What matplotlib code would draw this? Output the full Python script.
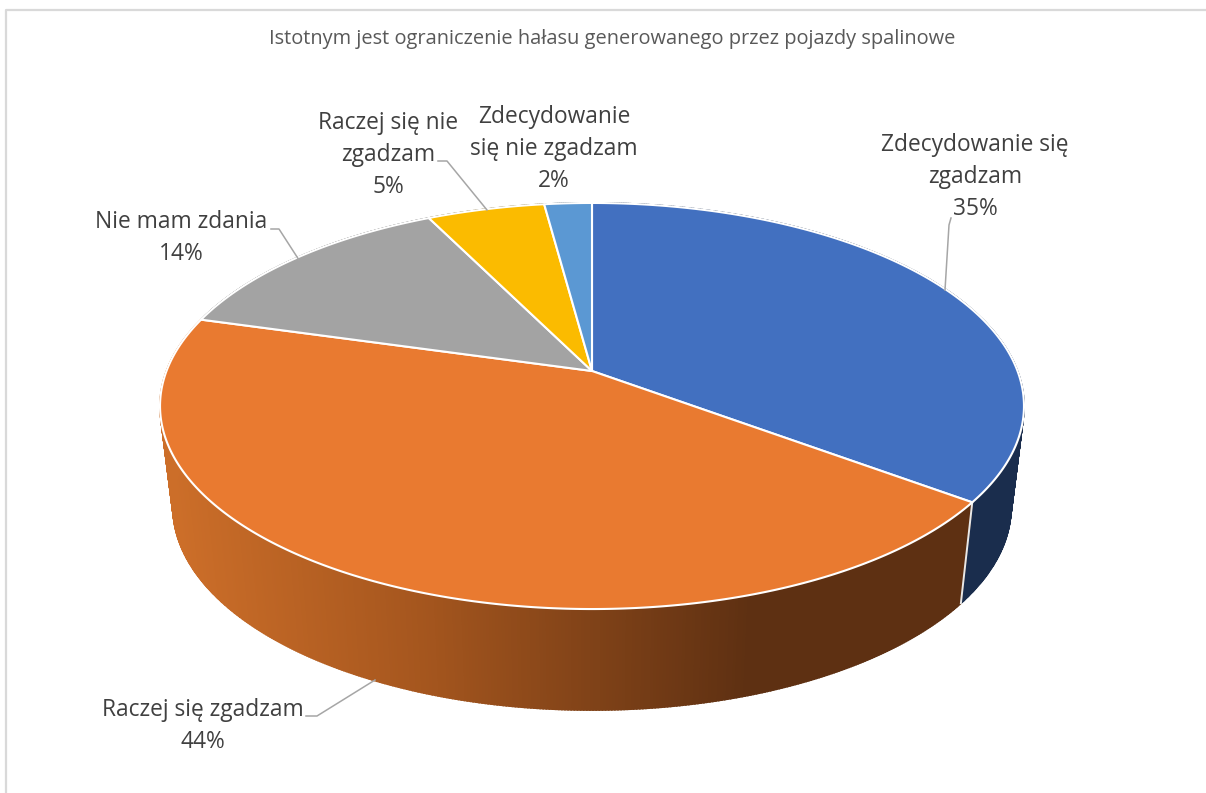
import numpy as np
import matplotlib
matplotlib.use("Agg")
import matplotlib.pyplot as plt

title = "Istotnym jest ograniczenie hałasu generowanego przez pojazdy spalinowe"
categories = ["Zdecydowanie się zgadzam", "Raczej się zgadzam", "Nie mam zdania",
              "Raczej się nie zgadzam", "Zdecydowanie się nie zgadzam"]
values = [35.2, 44.2, 13.3, 5.2, 2.1]
colors = ["#4270C0", "#E97A30", "#A3A3A3", "#FBBB00", "#5B98D3"]

plt.rcParams['font.family'] = ['Open Sans', 'DejaVu Sans']
W, H = 1206, 793
fig = plt.figure(figsize=(W / 100, H / 100), dpi=100)
ax = fig.add_axes([0, 0, 1, 1])
ax.set_xlim(0, W)
ax.set_ylim(H, 0)
ax.axis("off")

# perspective projection of the pie disc
CX, CY, RX, RY, K = 592, 371, 425.5, 197, 0.1724
F, CY2 = 0.97, 472


def top(t):
    u, v = np.sin(t), np.cos(t)
    w = 1 + K * v
    return CX + RX * u / w, CY - RY * v / w


def bottom(t):
    u, v = np.sin(t), np.cos(t)
    w = 1 + K * v
    return CX + F * RX * u / w, CY2 - RY * v / w


def hex2rgb(c):
    return np.array(matplotlib.colors.to_rgb(c))


def shade(i, x):
    if i == 1:
        xs = [170, 420, 750]
        cs = np.array([hex2rgb("#CC6E29"), hex2rgb("#A5561E"), hex2rgb("#5E3012")])
        return [np.interp(x, xs, cs[:, j]) for j in range(3)]
    return hex2rgb(colors[i]) * 0.40


edges = np.cumsum([0] + values) / sum(values) * 2 * np.pi

# side walls
for i in range(len(values)):
    ts = np.linspace(edges[i], edges[i + 1], int(values[i] * 10) + 2)
    for a, b in zip(ts[:-1], ts[1:]):
        xa, ya = top(a)
        xb, yb = top(b)
        xc, yc = bottom(b)
        xd, yd = bottom(a)
        col = shade(i, (xa + xb) / 2)
        ax.fill([xa, xb, xc, xd], [ya, yb, yc, yd], facecolor=col, edgecolor=col,
                lw=1.2, zorder=2)

# divider on the side between blue and orange
ax.plot(*zip(top(edges[1]), bottom(edges[1])), color="#E8E8E8", lw=1.4, zorder=3)

# top slices
for i in range(len(values)):
    ts = np.linspace(edges[i], edges[i + 1], int(values[i] * 12) + 2)
    xs, ys = top(ts)
    ax.fill(np.r_[CX, xs], np.r_[CY, ys], facecolor=colors[i], edgecolor="white",
            lw=1.5, zorder=4, joinstyle="round")

# chart frame
ax.plot([6, 6, W], [H, 10, 10], color="#D9D9D9", lw=1.6, zorder=1)

ax.text(612, 39, title, ha="center", va="center", fontsize=14.45, color="#595959")

label_style = dict(ha="center", va="center", fontsize=16.4, color="#404040", linespacing=1.44, zorder=6)
ax.text(975, 177, "Zdecydowanie się\nzgadzam\n35%", **label_style)
ax.text(203, 726, "Raczej się zgadzam\n44%", **label_style)
ax.text(181, 238, "Nie mam zdania\n14%", **label_style)
ax.text(388, 155, "Raczej się nie\nzgadzam\n5%", **label_style)
ax.text(554, 149, "Zdecydowanie\nsię nie zgadzam\n2%", **label_style)

leaders = [
    ([945, 949, 951], [290, 225, 218]),
    ([375, 317, 306], [680, 716, 716]),
    ([299, 279, 271], [260, 229, 229]),
    ([487, 447, 438], [210, 161, 161]),
]
for lx, ly in leaders:
    ax.plot(lx, ly, color="#A6A6A6", lw=1.1, zorder=5)

fig.savefig("out.png", dpi=100, facecolor="white")
